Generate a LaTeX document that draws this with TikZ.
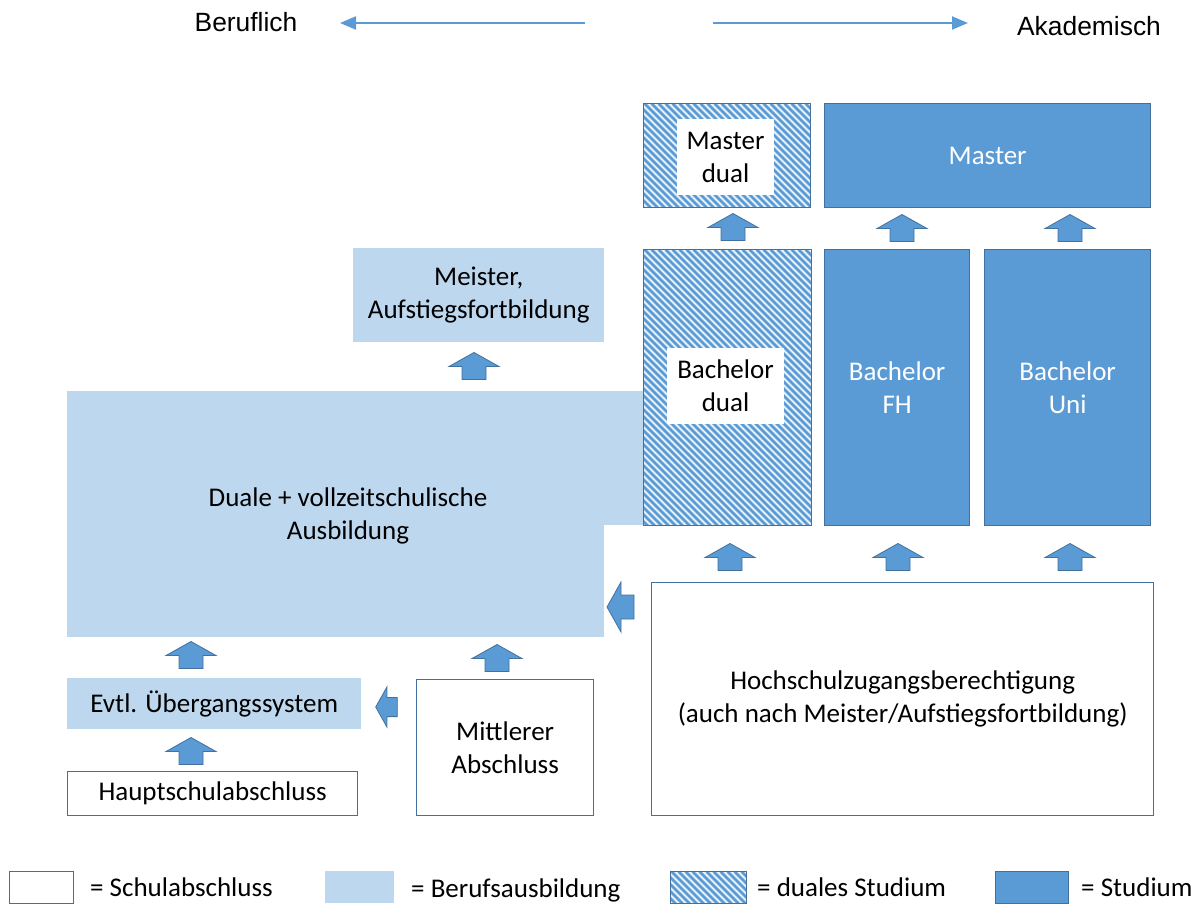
\documentclass[tikz,border=0pt]{standalone}
\usepackage{fontspec}
\setmainfont{Carlito}
\newfontfamily\arialfont{Liberation Sans}
\usetikzlibrary{arrows.meta}
\definecolor{studcol}{HTML}{5B9BD5}
\definecolor{bordcol}{HTML}{41719C}
\definecolor{berufcol}{HTML}{BDD7EE}
\definecolor{hatchbg}{HTML}{E6F0F9}
\tikzset{
  txt/.style={font=\fontsize{27}{33}\selectfont, align=center, inner sep=0pt},
  schul/.style={txt, draw=bordcol, line width=1.3pt, fill=white, anchor=north west},
  beruf/.style={txt, fill=berufcol, anchor=north west},
  studium/.style={txt, draw=bordcol, line width=1.3pt, fill=studcol, text=white, anchor=north west},
  stripe/.style={draw=studcol, line width=2.6pt},
  hatchbox/.style={txt, draw=bordcol, line width=1.3pt, fill=hatchbg, anchor=north west,
    path picture={\foreach \i in {0,...,75}{\draw[stripe] ([xshift=\i*7pt-300pt]path picture bounding box.north west) -- ++(400pt,-400pt);}}},
  whitelab/.style={txt, fill=white},
  barrow/.style={fill=studcol, draw=bordcol, line width=0.8pt},
  toparrow/.style={draw=studcol, line width=2.2pt, -{Triangle[length=16pt,width=13pt]}},
  toptxt/.style={font=\arialfont\fontsize{26.4}{30}\selectfont, inner sep=0pt, anchor=base},
  legtxt/.style={font=\fontsize{27}{33}\selectfont, inner sep=0pt, anchor=base west},
  uparr/.pic={\path[barrow] (0pt,13.5pt) -- (25pt,-0.5pt) -- (12pt,-0.5pt) -- (12pt,-13.5pt) -- (-12pt,-13.5pt) -- (-12pt,-0.5pt) -- (-25pt,-0.5pt) -- cycle;}
}
\begin{document}
\begin{tikzpicture}[x=1pt,y=-1pt]
\useasboundingbox (0,0) rectangle (1198,904);

% top direction arrows
\node[toptxt] (berufl) at (246,32) {Beruflich};
\node[toptxt] (akad) at (1089,36) {Akademisch};
\coordinate (lstart) at (585,23);
\coordinate (lend) at (340,23);
\coordinate (rstart) at (713,23);
\coordinate (rend) at (968,23);
\draw[toparrow] (lstart) -- (lend);
\draw[toparrow] (rstart) -- (rend);

% Berufsausbildung
\node[beruf, minimum width=251, minimum height=94] (meister) at (353,248) {Meister,\\Aufstiegsfortbildung};
\fill[berufcol] (600,391) rectangle (643,525);
\node[beruf, minimum width=537, minimum height=246] (duale) at (67,391) {};
\node[txt] (dualetxt) at (348,516) {Duale + vollzeitschulische\\Ausbildung};
\node[beruf, minimum width=294, minimum height=51] (ueber) at (67,678) {Evtl. Übergangssystem};

% Schulabschluss
\node[schul, minimum width=290, minimum height=44] (haupt) at (67,771) {Hauptschulabschluss};
\node[schul, minimum width=177, minimum height=136] (mittl) at (416,679) {Mittlerer\\Abschluss};
\node[schul, minimum width=502, minimum height=233] (hzb) at (651,582) {Hochschulzugangsberechtigung\\(auch nach Meister/Aufstiegsfortbildung)};

% duales Studium
\node[hatchbox, minimum width=167, minimum height=104] (mdual) at (643,103) {};
\node[whitelab, minimum width=97, minimum height=75] (mdualtxt) at (725.5,157) {Master\\dual};
\node[hatchbox, minimum width=168, minimum height=276] (bdual) at (643,249) {};
\node[whitelab, minimum width=117, minimum height=76] (bdualtxt) at (725.5,386) {Bachelor\\dual};

% Studium
\node[studium, minimum width=326, minimum height=104] (master) at (824,103) {Master};
\node[studium, minimum width=145, minimum height=276] (bfh) at (824,249) {Bachelor\\FH};
\node[studium, minimum width=166, minimum height=276] (buni) at (984,249) {Bachelor\\Uni};

% block arrows
\pic at (191,655) {uparr};
\pic at (191,751) {uparr};
\pic at (474,366) {uparr};
\pic at (497,658) {uparr};
\pic at (733,227) {uparr};
\pic at (902,228) {uparr};
\pic at (1070,228) {uparr};
\pic at (730,557) {uparr};
\pic at (898,557) {uparr};
\pic at (1070,557) {uparr};
\pic[rotate=90] at (620.5,607) {uparr};
\pic[rotate=90, scale=0.8] at (386.5,707) {uparr};

% legend
\node[schul, minimum width=64, minimum height=32] (lg1) at (9,871) {};
\node[legtxt] (lg1t) at (90,896) {= Schulabschluss};
\node[beruf, minimum width=69, minimum height=32] (lg2) at (325,871) {};
\node[legtxt] (lg2t) at (411,897) {= Berufsausbildung};
\node[hatchbox, minimum width=76, minimum height=32] (lg3) at (670,871) {};
\node[legtxt] (lg3t) at (757,896) {= duales Studium};
\node[studium, minimum width=73, minimum height=32] (lg4) at (995,871) {};
\node[legtxt] (lg4t) at (1081,896) {= Studium};
\end{tikzpicture}
\end{document}
